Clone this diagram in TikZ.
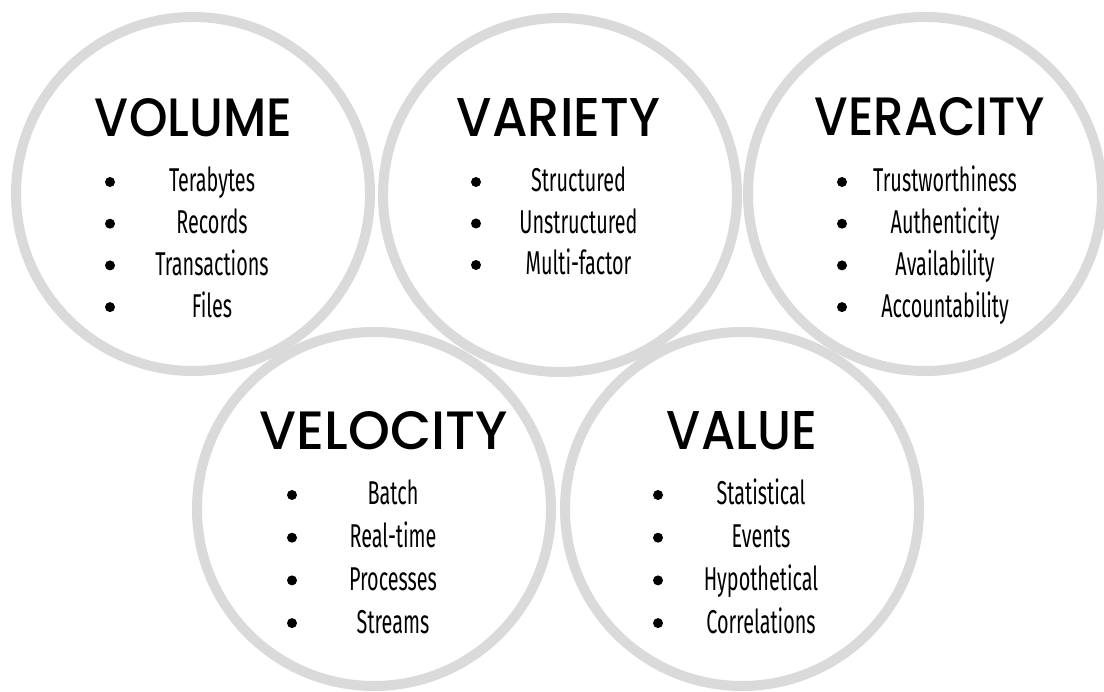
\documentclass[tikz,border=0pt]{standalone}
\usepackage{fontspec}
\usepackage{graphicx}
\newfontfamily\headfont{Poppins}[UprightFont=* Medium]
\newfontfamily\listfont{Fira Sans}
\definecolor{ringgray}{RGB}{218,218,218}
% heading: fixed width and cap height
\newcommand\headtext[2]{\resizebox{#1pt}{38pt}{\headfont #2}}
% list entry: condensed sans
\newcommand\listtext[1]{\scalebox{0.6}[1]{\listfont\fontsize{33}{33}\selectfont #1}}
\begin{document}
\begin{tikzpicture}[x=1pt,y=-1pt,
  ring/.style={circle,draw=ringgray,line width=10pt,minimum size=354pt,inner sep=0pt},
  head/.style={anchor=base,inner sep=0pt},
  entry/.style={anchor=base,inner sep=0pt},
  dot/.style={circle,fill=black,minimum size=10pt,inner sep=0pt}]
\useasboundingbox (0,0) rectangle (1104,692);
\fill[white] (0,0) rectangle (1104,692);

% the five rings
\node[ring] (volume)   at (193,194) {};
\node[ring] (variety)  at (560,195) {};
\node[ring] (veracity) at (925,194) {};
\node[ring] (velocity) at (374,509) {};
\node[ring] (value)    at (742,509) {};

% headings
\node[head] (volume-t)   at (193.5,137) {\headtext{197}{VOLUME}};
\node[head] (variety-t)  at (558.5,137) {\headtext{203}{VARIETY}};
\node[head] (veracity-t) at (930,136)   {\headtext{230}{VERACITY}};
\node[head] (velocity-t) at (384,450)   {\headtext{248}{VELOCITY}};
\node[head] (value-t)    at (742,450)   {\headtext{150}{VALUE}};

% bulleted lists
\foreach \t [count=\i] in {Terabytes,Records,Transactions,Files} {
  \node[entry] (volume-\i) at (212,{192+41.7*(\i-1)}) {\listtext{\t}};
  \node[dot] (volume-d\i) at (110,{182+41.7*(\i-1)}) {};
}
\foreach \t [count=\i] in {Structured,Unstructured,Multi-factor} {
  \node[entry] (variety-\i) at (578.5,{192+41.5*(\i-1)}) {\listtext{\t}};
  \node[dot] (variety-d\i) at (476,{182+41.5*(\i-1)}) {};
}
\foreach \t [count=\i] in {Trustworthiness,Authenticity,Availability,Accountability} {
  \node[entry] (veracity-\i) at (945,{192+41.7*(\i-1)}) {\listtext{\t}};
  \node[dot] (veracity-d\i) at (842,{182+41.7*(\i-1)}) {};
}
\foreach \t [count=\i] in {Batch,Real-time,Processes,Streams} {
  \node[entry] (velocity-\i) at (393,{505+42.7*(\i-1)}) {\listtext{\t}};
  \node[dot] (velocity-d\i) at (292,{495+42.7*(\i-1)}) {};
}
\foreach \t [count=\i] in {Statistical,Events,Hypothetical,Correlations} {
  \node[entry] (value-\i) at (761,{505+42.7*(\i-1)}) {\listtext{\t}};
  \node[dot] (value-d\i) at (658,{495+42.7*(\i-1)}) {};
}
\end{tikzpicture}
\end{document}
